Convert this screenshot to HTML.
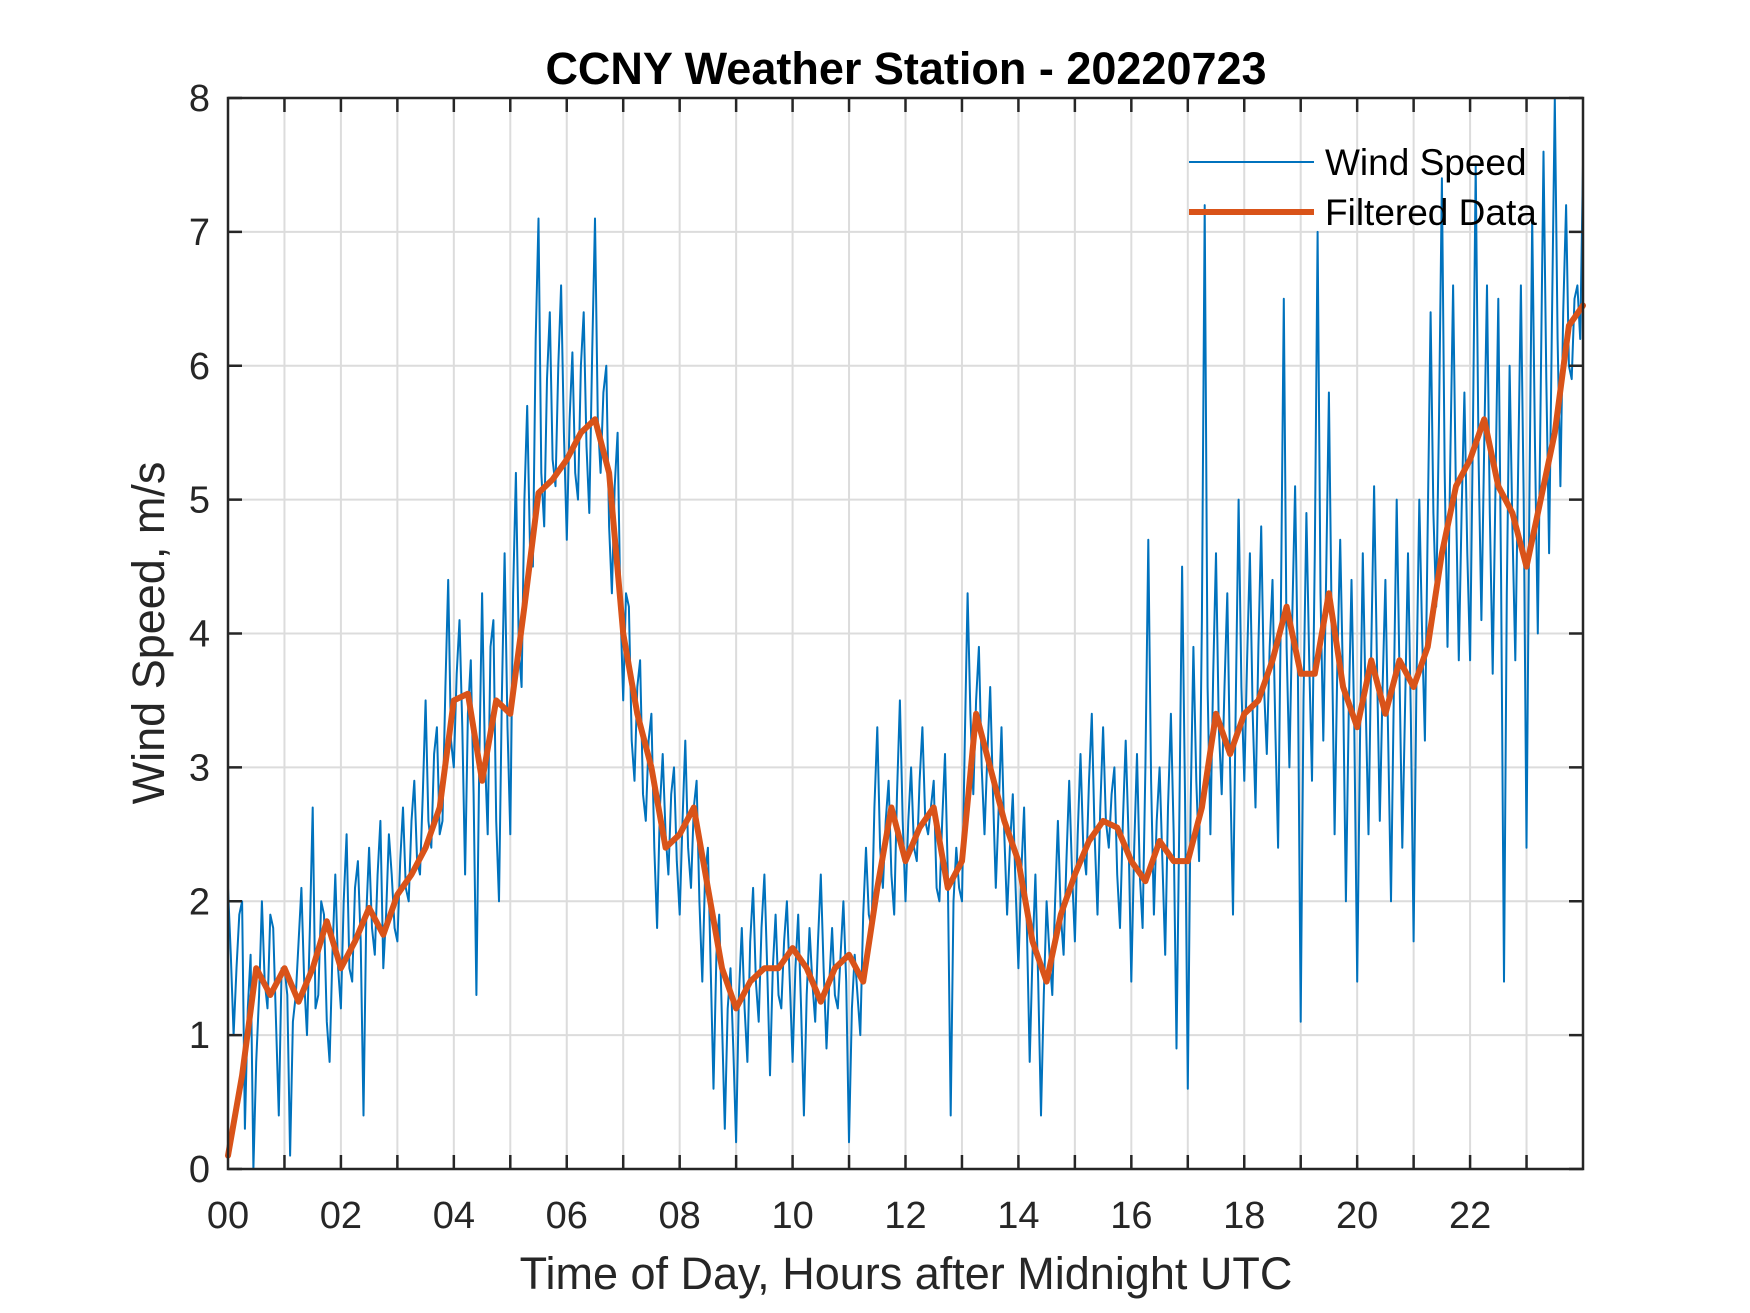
<!DOCTYPE html>
<html><head><meta charset="utf-8"><style>
html,body{margin:0;padding:0;background:#fff;}
svg{display:block;font-family:"Liberation Sans",Arial,sans-serif;}
</style></head><body>
<svg id="chart" width="1750" height="1313" viewBox="0 0 1750 1313">
<rect x="0" y="0" width="1750" height="1313" fill="#fff"/>
<g id="grid"></g>
<g id="series"></g>
<g id="axes"></g>
<text x="906" y="84" text-anchor="middle" font-size="45" font-weight="bold" fill="#000">CCNY Weather Station - 20220723</text>
<text x="906" y="1289" text-anchor="middle" font-size="45" fill="#262626">Time of Day, Hours after Midnight UTC</text>
<text transform="translate(164,633) rotate(-90)" text-anchor="middle" font-size="45" fill="#262626">Wind Speed, m/s</text>
<g>
<g>
<line x1="1189" y1="162" x2="1314" y2="162" stroke="#0072BD" stroke-width="2"/>
<text x="1325" y="175" font-size="37" fill="#000">Wind Speed</text></g>
<g>
<line x1="1189" y1="212" x2="1314" y2="212" stroke="#D95319" stroke-width="6"/>
<text x="1325" y="225" font-size="37" fill="#000">Filtered Data</text></g>
</g>
</svg>
<script>
const xTickLabels = ["00","02","04","06","08","10","12","14","16","18","20","22"];
const yTickLabels = [0,1,2,3,4,5,6,7,8];
const windHours = 24;
const windSpeed = [
2.1,1.6,1.0,1.5,1.9,2.0,0.3,1.2,1.6,0.0,0.8,1.3,2.0,1.4,1.2,1.9,1.8,1.1,0.4,1.5,
1.5,1.3,0.1,1.1,1.3,1.7,2.1,1.4,1.0,1.8,2.7,1.2,1.3,2.0,1.9,1.1,0.8,1.6,2.2,1.5,
1.2,2.0,2.5,1.5,1.4,2.1,2.3,1.7,0.4,1.9,2.4,1.8,1.6,2.2,2.6,1.5,1.9,2.5,2.2,1.8,
1.7,2.3,2.7,2.1,2.0,2.6,2.9,2.3,2.2,2.8,3.5,2.6,2.4,3.1,3.3,2.5,2.6,3.6,4.4,3.2,
3.0,3.7,4.1,3.3,2.2,3.4,3.8,2.8,1.3,3.0,4.3,3.1,2.5,3.9,4.1,2.6,2.0,3.5,4.6,3.3,
2.5,4.3,5.2,3.9,3.6,5.0,5.7,4.6,4.5,6.2,7.1,5.2,4.8,5.9,6.4,5.3,5.1,6.0,6.6,5.5,
4.7,5.6,6.1,5.2,5.0,6.0,6.4,5.4,4.9,6.1,7.1,5.6,5.2,5.8,6.0,4.8,4.3,5.1,5.5,4.2,
3.5,4.3,4.2,3.2,2.9,3.6,3.8,2.8,2.6,3.2,3.4,2.4,1.8,2.7,3.1,2.5,2.2,2.8,3.0,2.3,
1.9,2.6,3.2,2.4,2.1,2.7,2.9,2.0,1.4,2.2,2.4,1.5,0.6,1.6,1.9,1.1,0.3,1.2,1.5,0.9,
0.2,1.3,1.8,1.2,0.8,1.7,2.1,1.4,1.1,1.8,2.2,1.5,0.7,1.5,1.9,1.3,1.2,1.7,2.0,1.4,
0.8,1.5,1.9,1.2,0.4,1.3,1.8,1.4,1.1,1.7,2.2,1.5,0.9,1.4,1.8,1.3,1.2,1.6,2.0,1.4,
0.2,1.2,1.6,1.3,1.0,1.9,2.4,1.9,1.8,2.7,3.3,2.4,2.1,2.6,2.9,2.2,1.9,2.8,3.5,2.6,
2.0,2.6,3.0,2.4,2.3,2.9,3.3,2.6,2.5,2.7,2.9,2.1,2.0,2.6,3.1,2.2,0.4,2.0,2.4,2.1,
2.0,3.2,4.3,3.4,2.8,3.5,3.9,3.0,2.5,3.1,3.6,2.8,2.1,2.7,3.3,2.5,1.9,2.4,2.8,2.1,
1.5,2.2,2.7,1.8,0.8,1.6,2.2,1.4,0.4,1.3,2.0,1.6,1.3,2.0,2.6,1.9,1.6,2.3,2.9,2.2,
1.7,2.5,3.1,2.4,2.2,2.9,3.4,2.5,1.9,2.7,3.3,2.6,2.4,2.8,3.0,2.2,1.8,2.6,3.2,2.5,
1.4,2.4,3.1,2.2,1.8,3.0,4.7,2.9,1.9,2.6,3.0,2.3,1.6,2.7,3.4,2.5,0.9,2.6,4.5,2.8,
0.6,2.7,3.9,2.9,2.3,4.1,7.2,3.6,2.5,3.7,4.6,3.3,2.8,3.6,4.3,3.0,1.9,3.5,5.0,3.6,
2.9,3.8,4.6,3.4,2.7,3.9,4.8,3.6,3.1,3.9,4.4,3.3,2.4,4.2,6.5,3.9,3.0,4.1,5.1,3.7,
1.1,3.5,4.9,3.8,2.9,4.6,7.0,4.3,3.2,4.4,5.8,4.0,2.5,3.8,4.7,3.6,2.0,3.4,4.4,3.3,
1.4,3.2,4.6,3.5,2.5,3.9,5.1,3.8,2.6,3.6,4.4,3.2,2.0,3.6,5.0,3.7,2.4,3.5,4.6,3.4,
1.7,3.6,5.0,4.0,3.2,4.8,6.4,4.9,4.2,5.6,7.4,5.2,3.9,5.3,6.6,5.0,3.8,4.9,5.8,4.6,
3.8,5.5,7.5,5.3,4.1,5.4,6.6,4.9,3.7,5.1,6.5,4.4,1.4,4.3,6.0,4.8,3.8,5.2,6.6,5.0,
2.4,5.0,7.1,5.4,4.0,5.8,7.6,5.9,4.6,6.3,8.0,6.2,5.1,6.4,7.2,6.0,5.9,6.5,6.6,6.2,
7.5];
const filtered = [
0.1,0.7,1.5,1.3,1.5,1.25,1.5,1.85,1.5,1.7,1.95,1.75,
2.05,2.2,2.4,2.7,3.5,3.55,2.9,3.5,3.4,4.2,5.05,5.15,
5.3,5.5,5.6,5.2,4.0,3.4,3.0,2.4,2.5,2.7,2.1,1.5,
1.2,1.4,1.5,1.5,1.65,1.5,1.25,1.5,1.6,1.4,2.1,2.7,
2.3,2.55,2.7,2.1,2.3,3.4,3.0,2.6,2.3,1.7,1.4,1.9,
2.2,2.45,2.6,2.55,2.3,2.15,2.45,2.3,2.3,2.7,3.4,3.1,
3.4,3.5,3.8,4.2,3.7,3.7,4.3,3.6,3.3,3.8,3.4,3.8,
3.6,3.9,4.6,5.1,5.3,5.6,5.1,4.9,4.5,5.0,5.5,6.3,6.45];

const L=228,R=1583,T=98,B=1169;
const xs=h=>L+(R-L)*h/24;
const ys=v=>B-(B-T)*v/8;
const NS="http://www.w3.org/2000/svg";
function mk(tag,parent){const e=document.createElementNS(NS,tag);parent.appendChild(e);return e;}
const grid=document.getElementById('grid'),axes=document.getElementById('axes'),series=document.getElementById('series');

for(let h=1;h<24;h++){
  const l=mk('line',grid);
  
  
  l.setAttribute('x1',xs(h));l.setAttribute('x2',xs(h));l.setAttribute('y1',T);l.setAttribute('y2',B);
  l.setAttribute('stroke','#dcdcdc');l.setAttribute('stroke-width','2');
}
yTickLabels.forEach(v=>{
  if(v===0||v===8)return;
  const l=mk('line',grid);
  
  
  l.setAttribute('x1',L);l.setAttribute('x2',R);l.setAttribute('y1',ys(v));l.setAttribute('y2',ys(v));
  l.setAttribute('stroke','#dcdcdc');l.setAttribute('stroke-width','2');
});

const step=windHours/(windSpeed.length-1);
const p1=mk('polyline',series);


p1.setAttribute('points',windSpeed.map((v,i)=>xs(i*step).toFixed(1)+','+ys(v).toFixed(1)).join(' '));
p1.setAttribute('fill','none');p1.setAttribute('stroke','#0072BD');p1.setAttribute('stroke-width','2');p1.setAttribute('stroke-linejoin','round');

const fstep=24/(filtered.length-1);
const p2=mk('polyline',series);


p2.setAttribute('points',filtered.map((v,i)=>xs(i*fstep).toFixed(1)+','+ys(v).toFixed(1)).join(' '));
p2.setAttribute('fill','none');p2.setAttribute('stroke','#D95319');p2.setAttribute('stroke-width','6');p2.setAttribute('stroke-linejoin','round');p2.setAttribute('stroke-linecap','round');

const box=mk('rect',axes);


box.setAttribute('x',L);box.setAttribute('y',T);box.setAttribute('width',R-L);box.setAttribute('height',B-T);
box.setAttribute('fill','none');box.setAttribute('stroke','#262626');box.setAttribute('stroke-width','2.5');

for(let h=1;h<24;h++){
  [[B,B-14],[T,T+14]].forEach(([a,b])=>{
    const t=mk('line',axes);
    
    
    t.setAttribute('x1',xs(h));t.setAttribute('x2',xs(h));t.setAttribute('y1',a);t.setAttribute('y2',b);
    t.setAttribute('stroke','#262626');t.setAttribute('stroke-width','2.5');
  });
}
xTickLabels.forEach((s,i)=>{
  const t=mk('text',axes);
  
  
  t.setAttribute('x',xs(i*2));t.setAttribute('y',1228);t.setAttribute('text-anchor','middle');
  t.setAttribute('font-size','38');t.setAttribute('fill','#262626');t.textContent=s;
});
yTickLabels.forEach(v=>{
  [[L,L+14],[R,R-14]].forEach(([a,b])=>{
    const t=mk('line',axes);
    
    
    t.setAttribute('x1',a);t.setAttribute('x2',b);t.setAttribute('y1',ys(v));t.setAttribute('y2',ys(v));
    t.setAttribute('stroke','#262626');t.setAttribute('stroke-width','2.5');
  });
  const t=mk('text',axes);
  
  
  t.setAttribute('x',210);t.setAttribute('y',ys(v)+13);t.setAttribute('text-anchor','end');
  t.setAttribute('font-size','38');t.setAttribute('fill','#262626');t.textContent=v;
});
</script>
</body></html>
